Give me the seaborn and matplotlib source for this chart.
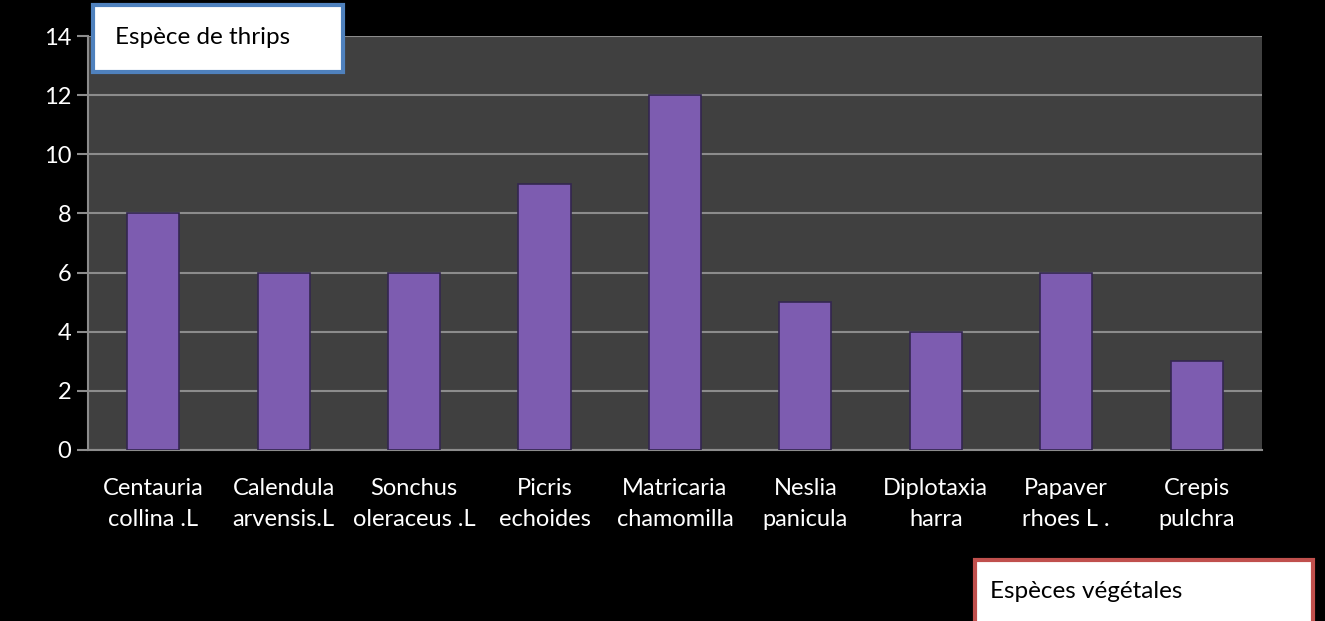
import matplotlib
matplotlib.use("Agg")
import matplotlib.pyplot as plt
from matplotlib.patches import Rectangle
import seaborn as sns
import numpy as np
import pandas as pd

species = ["Centauria\ncollina .L", "Calendula\narvensis.L", "Sonchus\noleraceus .L",
           "Picris\nechoides", "Matricaria\nchamomilla", "Neslia\npanicula",
           "Diplotaxia\nharra", "Papaver\nrhoes L .", "Crepis\npulchra"]
counts = [8, 6, 6, 9, 12, 5, 4, 6, 3]
y_ticks = [0, 2, 4, 6, 8, 10, 12, 14]

sns.set_style("dark")
plt.rcParams["font.family"] = ["Lato", "DejaVu Sans"]

df = pd.DataFrame({"species": species, "count": counts})

fig = plt.figure(figsize=(13.25, 6.21), dpi=100, facecolor="black")
ax = fig.add_axes([0.0664, 0.2754, 0.886, 0.6666])
ax.set_facecolor("#404040")

sns.barplot(data=df, x="species", y="count", color="#7d5cb0", width=0.4,
            saturation=1, edgecolor="#33264f", linewidth=1.2, ax=ax, zorder=3)

ax.set_ylim(0, 14)
ax.set_xlim(-0.5, len(species) - 0.5)
ax.set_yticks(y_ticks)
ax.grid(axis="y", color="#8c8c8c", linewidth=1.5, zorder=0)
ax.grid(axis="x", visible=False)

for s in ["top", "right"]:
    ax.spines[s].set_visible(False)
for s in ["left", "bottom"]:
    ax.spines[s].set_color("#8c8c8c")
    ax.spines[s].set_linewidth(1.5)

ax.set_xticks(np.arange(len(species) + 1) - 0.5, minor=True)
ax.set_xticks(range(len(species)))
ax.set_xticklabels(species, linespacing=1.6)
ax.tick_params(axis="x", which="major", length=0, pad=20, labelsize=17, labelcolor="white")
ax.tick_params(axis="x", which="minor", length=8, width=1.5, color="#8c8c8c", direction="out")
ax.tick_params(axis="y", length=8, width=1.5, color="#8c8c8c", direction="out",
               labelsize=17, labelcolor="white", pad=4, left=True)
ax.set_xlabel("")
ax.set_ylabel("")

# text boxes
fig.add_artist(Rectangle((0.0702, 0.884), 0.1887, 0.108, transform=fig.transFigure,
                         facecolor="white", edgecolor="#4f81bd", linewidth=3, zorder=10))
fig.text(0.0868, 0.940, "Espèce de thrips", fontsize=17.5, color="black",
         va="center", ha="left", zorder=11)
fig.add_artist(Rectangle((0.736, -0.05), 0.255, 0.148, transform=fig.transFigure,
                         facecolor="white", edgecolor="#c0504d", linewidth=3, zorder=10))
fig.text(0.747, 0.047, "Espèces végétales", fontsize=17.5, color="black",
         va="center", ha="left", zorder=11)

fig.savefig("out.png", dpi=100, facecolor="black")
